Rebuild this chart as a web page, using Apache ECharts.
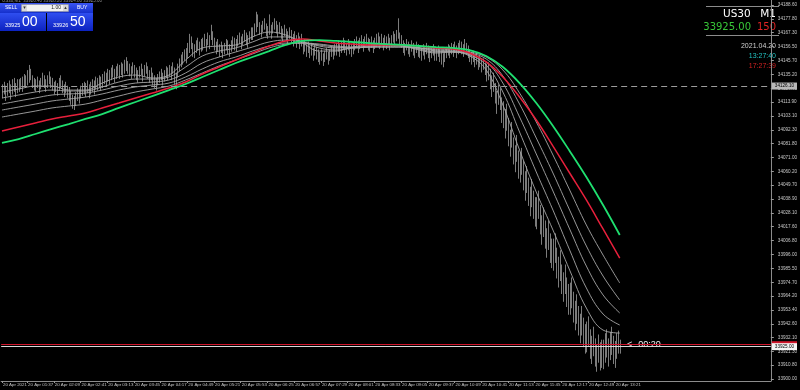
<!DOCTYPE html>
<html><head><meta charset="utf-8">
<script src="https://cdn.jsdelivr.net/npm/echarts@6/dist/echarts.min.js"></script>
<style>html,body{margin:0;padding:0;background:#000;}#c{width:800px;height:390px;}</style>
</head><body><div id="c"></div>
<script>
// ---- chart data ----
const symbolName = "US30";
const timeframe = "M1";
const datePrefix = "20 Apr";
const firstDateLabel = "20 Apr 2021";
const barStartMinute = 67;   // 01:07, first 2-minute bar
const barStepMinutes = 2;
const barSlots = 461;        // bars that fit the visible window
const xTickTimes = ["01:07","01:37","02:09","02:41","03:13","03:45","04:17","04:49","05:21","05:53","06:25","06:57","07:29","08:01","08:33","09:05","09:37","10:09","10:41","11:13","11:45","12:17","12:49","13:21"];
const yTickValues = [34188.60,34177.80,34167.30,34156.50,34145.70,34135.20,34124.40,34113.90,34103.10,34092.30,34081.80,34071.00,34060.20,34049.70,34038.90,34028.10,34017.60,34006.80,33996.00,33985.50,33974.70,33964.20,33953.40,33942.60,33932.10,33921.30,33910.80,33900.00];
const yMin = 33898.5, yMax = 34192.5;
const hLinePrice = 34126.10;
const bidPrice = 33925.00;
const askPrice = 33926.50;
const spreadPoints = "150";
const serverDate = "2021.04.20", serverTime = "13:27:40", localTime = "17:27:39";
const barCountdown = "<--00:20";
const sellWhole = "33925", sellFrac = "00", buyWhole = "33926", buyFrac = "50", lotSize = "1.00";

const barLow = [
34117,34120,34115,34119,34121,34116,34120,34122,34118,34121,
34122,34124,34122,34126,34125,34127,34129,34131,34125,34123,
34122,34125,34121,34124,34127,34125,34122,34125,34128,34125,
34123,34120,34122,34119,34123,34125,34121,34118,34121,34117,
34115,34112,34109,34108,34111,34115,34113,34117,34119,34120,
34118,34121,34117,34120,34122,34120,34124,34123,34125,34123,
34125,34128,34126,34130,34128,34131,34133,34129,34132,34134,
34132,34135,34133,34136,34138,34136,34134,34132,34136,34133,
34131,34129,34133,34135,34130,34134,34136,34132,34129,34131,
34127,34125,34123,34127,34129,34131,34127,34130,34133,34131,
34134,34131,34136,34128,34124,34133,34138,34141,34143,34146,
34144,34148,34152,34155,34149,34148,34152,34154,34150,34153,
34154,34157,34153,34158,34155,34162,34158,34154,34151,34153,
34149,34152,34148,34151,34154,34151,34149,34153,34156,34154,
34153,34157,34159,34155,34158,34161,34158,34156,34160,34162,
34162,34165,34168,34172,34166,34164,34168,34170,34165,34163,
34166,34163,34167,34170,34167,34164,34167,34163,34161,34165,
34161,34159,34163,34160,34157,34160,34156,34159,34155,34157,
34151,34153,34149,34152,34148,34150,34146,34150,34147,34145,
34143,34146,34142,34145,34147,34143,34146,34149,34147,34150,
34150,34153,34149,34152,34155,34152,34150,34154,34151,34149,
34151,34154,34156,34152,34155,34157,34153,34156,34158,34154,
34153,34156,34152,34155,34157,34159,34155,34158,34154,34157,
34155,34158,34154,34157,34160,34157,34161,34163,34158,34156,
34152,34150,34154,34151,34149,34153,34150,34148,34152,34149,
34148,34146,34150,34147,34151,34148,34145,34148,34150,34146,
34146,34149,34145,34143,34141,34145,34148,34150,34148,34151,
34149,34152,34148,34151,34153,34151,34149,34154,34151,34148,
34145,34143,34145,34141,34143,34139,34141,34137,34139,34135,
34130,34131,34124,34118,34122,34113,34105,34112,34108,34098,
34094,34086,34092,34080,34072,34079,34066,34060,34068,34055,
34052,34058,34046,34038,34044,34034,34026,34033,34024,34018,
34016,34024,34012,34004,34010,34001,33994,34000,33990,33986,
33984,33990,33978,33971,33976,33966,33960,33966,33956,33950,
33950,33955,33944,33938,33943,33934,33928,33934,33925,33920,
33921,33926,33916,33912,33918,33910,33906,33913,33907,33909,
33908,33913,33917,33910,33915,33919,33912,33909,33916,33920,
33920];
const barHigh = [
34127,34129,34126,34128,34130,34127,34131,34132,34128,34131,
34131,34132,34133,34135,34134,34138,34142,34139,34134,34132,
34131,34133,34130,34132,34136,34134,34131,34134,34137,34133,
34132,34129,34130,34128,34132,34134,34130,34127,34129,34126,
34125,34122,34119,34118,34121,34124,34123,34126,34128,34129,
34128,34130,34127,34129,34131,34130,34133,34132,34134,34133,
34135,34137,34136,34139,34138,34140,34142,34139,34141,34143,
34142,34144,34143,34146,34148,34145,34143,34141,34144,34142,
34140,34138,34141,34143,34139,34142,34144,34141,34138,34140,
34136,34134,34132,34135,34137,34139,34136,34138,34141,34140,
34142,34141,34144,34140,34136,34143,34147,34150,34152,34154,
34155,34159,34166,34164,34159,34158,34161,34163,34160,34162,
34163,34166,34162,34167,34165,34173,34168,34163,34160,34162,
34158,34160,34157,34159,34162,34161,34158,34161,34164,34163,
34162,34165,34167,34164,34166,34169,34167,34165,34168,34171,
34171,34174,34183,34181,34175,34173,34176,34178,34174,34172,
34181,34173,34175,34178,34176,34173,34175,34172,34170,34173,
34170,34168,34171,34169,34166,34168,34165,34167,34164,34166,
34160,34162,34158,34160,34157,34159,34155,34158,34156,34154,
34152,34154,34151,34153,34155,34152,34154,34157,34156,34158,
34159,34161,34158,34160,34163,34161,34159,34162,34160,34158,
34160,34162,34164,34161,34163,34165,34162,34164,34166,34163,
34162,34164,34161,34163,34166,34167,34164,34166,34163,34165,
34164,34166,34163,34165,34168,34166,34169,34178,34167,34165,
34161,34159,34162,34160,34158,34161,34159,34157,34160,34158,
34157,34155,34158,34156,34159,34157,34154,34156,34158,34155,
34155,34157,34154,34152,34151,34153,34156,34158,34157,34159,
34158,34160,34157,34159,34161,34160,34158,34162,34159,34157,
34154,34152,34153,34150,34151,34148,34149,34146,34147,34144,
34143,34144,34139,34134,34136,34128,34122,34127,34124,34117,
34114,34108,34112,34101,34092,34098,34086,34080,34088,34076,
34074,34078,34068,34060,34064,34055,34048,34054,34045,34040,
34040,34045,34034,34026,34032,34022,34016,34022,34012,34008,
34008,34012,34001,33994,33999,33988,33982,33988,33978,33973,
33974,33978,33967,33960,33965,33956,33950,33956,33947,33942,
33944,33948,33938,33933,33940,33931,33926,33934,33928,33930,
33930,33935,33938,33931,33936,33940,33933,33929,33935,33937,
33930];

// moving averages read every 10 bars
const maStep = 10;
const maGreen = [34082.2,34085.2,34089.1,34093.0,34096.8,34100.7,34104.5,34109.2,34113.8,34118.4,34123.0,34127.7,34133.1,34138.5,34143.9,34148.5,34153.1,34157.8,34160.9,34161.6,34160.9,34160.1,34159.3,34158.5,34157.8,34157.0,34156.2,34155.5,34153.9,34149.3,34140.8,34128.4,34113.0,34095.3,34076.0,34055.9,34034.3,34011.2];
const maRed = [34091.4,34094.5,34097.6,34100.7,34103.0,34105.3,34109.2,34113.0,34116.9,34120.7,34124.6,34129.2,34135.4,34140.8,34146.2,34151.6,34157.0,34160.9,34162.4,34160.9,34159.3,34158.5,34157.8,34157.8,34157.8,34157.0,34155.5,34154.7,34151.6,34144.7,34133.1,34117.6,34099.9,34079.8,34059.0,34038.2,34015.8,33993.4];
const maGray1 = [34121.5,34123.8,34126.1,34126.1,34123.0,34123.0,34128.4,34133.1,34134.6,34132.3,34134.6,34146.2,34155.5,34157.0,34157.8,34164.0,34167.8,34165.5,34159.3,34153.1,34153.1,34156.2,34157.8,34158.5,34157.0,34153.9,34151.6,34152.4,34149.3,34138.5,34111.5,34076.7,34044.3,34015.0,33984.1,33954.8,33937.8,33935.5];
const maGray2 = [34116.9,34119.2,34121.5,34123.0,34122.3,34122.3,34125.4,34129.2,34131.5,34131.5,34133.1,34140.8,34149.3,34153.1,34155.5,34160.1,34164.0,34164.0,34160.1,34155.5,34153.9,34155.5,34157.0,34157.8,34157.0,34154.7,34152.4,34152.4,34150.1,34142.3,34121.5,34090.6,34059.8,34030.4,33999.6,33970.3,33950.2,33941.7];
const maGray3 = [34112.2,34114.6,34116.9,34119.2,34120.0,34120.7,34123.0,34126.1,34128.4,34129.2,34130.8,34136.2,34143.9,34148.5,34152.4,34156.2,34160.1,34161.6,34160.1,34157.0,34155.5,34155.5,34156.2,34157.0,34157.0,34155.5,34153.1,34152.4,34150.8,34144.7,34128.4,34102.2,34073.7,34045.1,34015.8,33987.2,33964.9,33951.0];
const maGray4 = [34107.6,34109.9,34112.2,34114.6,34116.1,34117.6,34120.0,34123.0,34125.4,34126.9,34128.4,34133.1,34139.3,34144.7,34148.5,34153.1,34157.0,34159.3,34159.3,34157.8,34156.2,34155.5,34156.2,34156.2,34156.2,34155.5,34153.9,34153.1,34151.6,34147.0,34133.9,34112.2,34086.0,34059.0,34030.4,34002.7,33979.5,33961.0];
const maGray5 = [34102.2,34104.5,34106.8,34109.2,34110.7,34112.2,34115.3,34118.4,34121.5,34123.8,34126.1,34130.8,34136.2,34141.6,34146.2,34150.8,34155.5,34158.5,34159.3,34158.5,34157.0,34156.2,34156.2,34156.2,34156.2,34155.5,34154.7,34153.9,34152.4,34148.5,34138.5,34120.7,34098.4,34072.9,34045.9,34018.9,33995.7,33974.1];

// ---- build ----
function hhmm(m){const h=Math.floor(m/60)%24, mm=m%60;return String(h).padStart(2,'0')+':'+String(mm).padStart(2,'0');}
const categories = Array.from({length:barSlots},(_,i)=>hhmm(barStartMinute+i*barStepMinutes));
const tickSet = new Set(xTickTimes);
const isTick = (i)=> tickSet.has(categories[i]) && i < barLow.length;
const maPairs = arr => arr.map((v,k)=>[k*maStep, v]);

const chart = echarts.init(document.getElementById('c'), null, {renderer:'canvas'});
const grayMA = {color:'#a8a8a8', width:0.9};
const small = 'Liberation Sans';
function maSeries(name, arr, color, width, z){
  return {type:'line', name, data:maPairs(arr), smooth:0.4, showSymbol:false, silent:true,
    lineStyle:{color, width}, z};
}
const option = {
  backgroundColor:'#000000',
  animation:false,
  grid:{left:0, right:24, top:0, bottom:9},
  xAxis:{type:'category', data:categories, boundaryGap:true,
    axisLine:{show:true, lineStyle:{color:'#8c8c8c', width:1}},
    axisTick:{show:true, alignWithLabel:true, length:2, interval:(i)=>isTick(i), lineStyle:{color:'#9a9a9a'}},
    axisLabel:{interval:(i)=>isTick(i), formatter:(v,i)=> i===0 ? firstDateLabel : datePrefix+' '+v,
      align:'left', fontSize:4.4, color:'#c4c4c4', margin:2, fontFamily:small, padding:[0,0,0,1]},
    splitLine:{show:false}},
  yAxis:{type:'value', position:'right', min:yMin, max:yMax,
    axisLine:{show:true, lineStyle:{color:'#8c8c8c', width:1}},
    axisTick:{show:true, length:3, customValues:yTickValues, lineStyle:{color:'#9a9a9a'}},
    axisLabel:{customValues:yTickValues, formatter:v=>v.toFixed(2), fontSize:4.6, color:'#c8c8c8', margin:7, fontFamily:small},
    splitLine:{show:false}},
  series:[
    {type:'custom', name:'price', data:barLow.map((l,i)=>[i,l,barHigh[i]]),
     encode:{x:0, y:[1,2]}, silent:true, z:2, clip:true,
     renderItem:(params, api)=>{
       const a = api.coord([api.value(0), api.value(1)]);
       const b = api.coord([api.value(0), api.value(2)]);
       const x = Math.round(a[0]) + 0.5;
       return {type:'line', shape:{x1:x, y1:a[1]+0.5, x2:x, y2:b[1]-0.5}, style:{stroke:'#7c7c7c', lineWidth:1}};
     }},
    maSeries('ma1', maGray1, grayMA.color, grayMA.width, 3),
    maSeries('ma2', maGray2, grayMA.color, grayMA.width, 3),
    maSeries('ma3', maGray3, grayMA.color, grayMA.width, 3),
    maSeries('ma4', maGray4, grayMA.color, grayMA.width, 3),
    maSeries('ma5', maGray5, grayMA.color, grayMA.width, 3),
    maSeries('maRed', maRed, '#e8203c', 1.5, 4),
    Object.assign(maSeries('maGreen', maGreen, '#1fe070', 1.8, 5), {
      markLine:{symbol:'none', silent:true, animation:false, precision:2,
        data:[
          {yAxis:hLinePrice, lineStyle:{color:'#9c9c9c', type:[6,4], width:1},
           label:{show:true, position:'end', distance:1, formatter:hLinePrice.toFixed(2), backgroundColor:'#b8b8b8', color:'#000', fontSize:4.6, fontFamily:small, padding:[1,3,1,3]}},
          {yAxis:askPrice, lineStyle:{color:'#d0142a', type:'solid', width:1},
           label:{show:true, position:'end', distance:1, formatter:askPrice.toFixed(2), backgroundColor:'#d0142a', color:'#d0142a', fontSize:4.6, fontFamily:small, padding:[1,3,1,3]}},
          {yAxis:bidPrice, lineStyle:{color:'#d8d8d8', type:'solid', width:1},
           label:{show:true, position:'end', distance:1, formatter:bidPrice.toFixed(2), backgroundColor:'#f4f4f4', color:'#000', fontSize:4.6, fontFamily:small, padding:[1,3,1,3]}}
        ]}
    })
  ],
  graphic:[
    {type:'text', left:2, top:-2, silent:true, style:{text:symbolName+','+timeframe+'  33926.40 33928.20 33924.80 33925.00', fill:'#8a8a8a', font:'4.5px "Liberation Sans"'}},
    {type:'rect', silent:true, shape:{x:0, y:3, width:93, height:10}, style:{fill:{type:'linear',x:0,y:0,x2:0,y2:1,colorStops:[{offset:0,color:'#3a55f2'},{offset:1,color:'#1530cc'}]}}},
    {type:'text', silent:true, style:{text:'SELL', x:5, y:8, fill:'#ffffff', font:'5px "Liberation Sans"', textVerticalAlign:'middle', verticalAlign:'middle'}},
    {type:'text', silent:true, style:{text:'BUY', x:77, y:8, fill:'#ffffff', font:'5px "Liberation Sans"', textVerticalAlign:'middle', verticalAlign:'middle'}},
    {type:'rect', silent:true, shape:{x:21.5, y:4.5, width:47, height:7}, style:{fill:'#f2f2f2', stroke:'#8a8a8a', lineWidth:0.5}},
    {type:'rect', silent:true, shape:{x:22, y:5, width:5, height:6}, style:{fill:'#d8d8d8'}},
    {type:'rect', silent:true, shape:{x:63, y:5, width:5, height:6}, style:{fill:'#d8d8d8'}},
    {type:'text', silent:true, style:{text:'▾', x:24.5, y:8, fill:'#333', font:'5px "DejaVu Sans"', textAlign:'center', align:'center', textVerticalAlign:'middle', verticalAlign:'middle'}},
    {type:'text', silent:true, style:{text:'▴', x:65.5, y:8, fill:'#333', font:'5px "DejaVu Sans"', textAlign:'center', align:'center', textVerticalAlign:'middle', verticalAlign:'middle'}},
    {type:'text', silent:true, style:{text:lotSize, x:61, y:8, fill:'#222', font:'5px "Liberation Sans"', textAlign:'right', align:'right', textVerticalAlign:'middle', verticalAlign:'middle'}},
    {type:'rect', silent:true, shape:{x:0, y:13, width:46, height:18}, style:{fill:{type:'linear',x:0,y:0,x2:0,y2:1,colorStops:[{offset:0,color:'#2f4ef0'},{offset:1,color:'#0c22c0'}]}}},
    {type:'rect', silent:true, shape:{x:47, y:13, width:46, height:18}, style:{fill:{type:'linear',x:0,y:0,x2:0,y2:1,colorStops:[{offset:0,color:'#2f4ef0'},{offset:1,color:'#0c22c0'}]}}},
    {type:'text', silent:true, style:{text:sellWhole, x:5, y:25, fill:'#ffffff', font:'5.5px "Liberation Sans"', textVerticalAlign:'middle', verticalAlign:'middle'}},
    {type:'text', silent:true, style:{text:sellFrac, x:22, y:22.5, fill:'#ffffff', font:'14px "Liberation Sans"', textVerticalAlign:'middle', verticalAlign:'middle'}},
    {type:'text', silent:true, style:{text:buyWhole, x:53, y:25, fill:'#ffffff', font:'5.5px "Liberation Sans"', textVerticalAlign:'middle', verticalAlign:'middle'}},
    {type:'text', silent:true, style:{text:buyFrac, x:70, y:22.5, fill:'#ffffff', font:'14px "Liberation Sans"', textVerticalAlign:'middle', verticalAlign:'middle'}},
    {type:'line', silent:true, shape:{x1:706, y1:6.5, x2:779, y2:6.5}, style:{stroke:'#8c8c8c', lineWidth:1}},
    {type:'line', silent:true, shape:{x1:706, y1:35.5, x2:779, y2:35.5}, style:{stroke:'#8c8c8c', lineWidth:1}},
    {type:'text', silent:true, style:{text:symbolName, x:723, y:14.5, fill:'#ffffff', font:'10.5px "DejaVu Sans"', textVerticalAlign:'middle', verticalAlign:'middle'}},
    {type:'text', silent:true, style:{text:timeframe, x:776, y:14.5, fill:'#ffffff', font:'10.5px "DejaVu Sans"', textAlign:'right', align:'right', textVerticalAlign:'middle', verticalAlign:'middle'}},
    {type:'text', silent:true, style:{text:bidPrice.toFixed(2), x:751, y:27.5, fill:'#38c838', font:'10px "DejaVu Sans"', textAlign:'right', align:'right', textVerticalAlign:'middle', verticalAlign:'middle'}},
    {type:'text', silent:true, style:{text:spreadPoints, x:776, y:27.5, fill:'#e02424', font:'10px "DejaVu Sans"', textAlign:'right', align:'right', textVerticalAlign:'middle', verticalAlign:'middle'}},
    {type:'text', silent:true, style:{text:serverDate, x:776, y:46.5, fill:'#cfcfcf', font:'7px "Liberation Sans"', textAlign:'right', align:'right', textVerticalAlign:'middle', verticalAlign:'middle'}},
    {type:'text', silent:true, style:{text:serverTime, x:776, y:56.5, fill:'#22c4c4', font:'7px "Liberation Sans"', textAlign:'right', align:'right', textVerticalAlign:'middle', verticalAlign:'middle'}},
    {type:'text', silent:true, style:{text:localTime, x:776, y:66.5, fill:'#d42222', font:'7px "Liberation Sans"', textAlign:'right', align:'right', textVerticalAlign:'middle', verticalAlign:'middle'}},
    {type:'text', silent:true, style:{text:barCountdown, x:627, y:345, fill:'#f0f0f0', font:'9px "Liberation Sans"', textVerticalAlign:'middle', verticalAlign:'middle'}}
  ]
};
chart.setOption(option);
</script>
</body></html>
